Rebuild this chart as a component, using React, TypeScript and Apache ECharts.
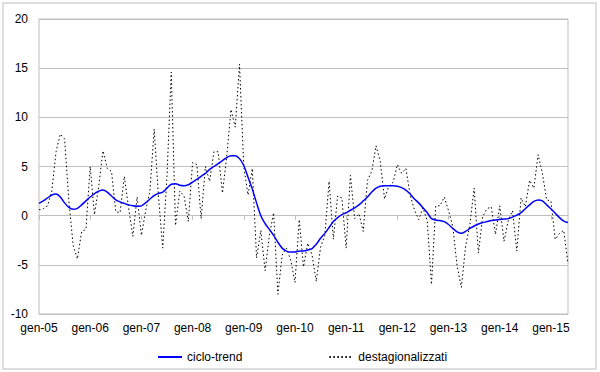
import React, { useEffect, useRef } from "react";
import * as echarts from "echarts";

const months = ["gen", "feb", "mar", "apr", "mag", "giu", "lug", "ago", "set", "ott", "nov", "dic"];
const years = ["05", "06", "07", "08", "09", "10", "11", "12", "13", "14", "15"];
const monthsInLastYear = 5;

const yTicks = { min: -10, max: 20, interval: 5 };

const cicloTrend = [
  1.25, 1.5, 1.8, 2.1, 2.2, 1.9, 1.3, 0.85, 0.65, 0.75, 1.1, 1.5,
  1.9, 2.25, 2.5, 2.6, 2.4, 2.0, 1.6, 1.4, 1.25, 1.1, 1.0, 0.95,
  1.0, 1.3, 1.7, 2.05, 2.25, 2.4, 2.8, 3.2, 3.25, 3.1, 3.05, 3.15,
  3.4, 3.7, 4.0, 4.3, 4.7, 5.0, 5.3, 5.6, 5.9, 6.1, 6.1, 5.8,
  5.1, 3.9, 2.7, 1.3, 0.0, -0.8, -1.4, -2.0, -2.7, -3.3, -3.6, -3.7,
  -3.7, -3.6, -3.6, -3.5, -3.35, -2.9, -2.3, -1.8, -1.2, -0.6, -0.2, 0.1,
  0.3, 0.55, 0.8, 1.1, 1.5, 1.9, 2.4, 2.8, 3.0, 3.05, 3.05, 3.05,
  3.0, 2.85, 2.6, 2.2, 1.7, 1.3, 0.8, 0.3, -0.3, -0.45, -0.5, -0.6,
  -0.9, -1.3, -1.65, -1.8, -1.6, -1.3, -1.05, -0.85, -0.7, -0.6, -0.5, -0.45,
  -0.4, -0.35, -0.3, -0.15, 0.05, 0.3, 0.7, 1.1, 1.45, 1.6, 1.5, 1.1,
  0.7, 0.25, -0.2, -0.55, -0.7,
];

const destagionalizzati = [
  0.6, 0.7, 1.0, 2.5, 6.5, 8.3, 7.8, 1.5, -3.0, -4.4, -1.6, -1.4,
  5.0, 0.1, 3.0, 6.6, 4.8, 4.5, 0.4, 0.3, 4.0, 0.8, -2.1, 1.9,
  -2.0, 0.5, 2.5, 8.8, 2.0, -3.3, 4.0, 14.6, -1.0, 2.5, 2.0, -0.6,
  5.4, 5.2, -0.3, 5.0, 3.5, 6.5, 6.5, 2.3, 6.0, 10.8, 9.0, 15.4,
  5.0, 2.1, 4.8, -4.3, -1.5, -5.6, -2.0, 0.3, -8.0, -4.0, -3.3, -4.5,
  -6.8, -0.4, -5.2, -2.8, -4.0, -6.7, -3.2, -2.0, 3.5, -2.4, 2.0, 1.8,
  -3.3, 4.1, -0.3, 0.2, -1.6, 3.6, 4.5, 7.1, 5.5, 1.7, 3.0, 3.4,
  5.2, 4.3, 4.8, 2.1, 0.6, -0.4, 0.8, -0.5, -7.0, 1.0, 1.0, 1.9,
  0.5, -1.1, -5.1, -7.3, -3.1, -0.9, 2.8, -3.8, -0.1, 0.7, 0.9, -1.9,
  1.0, -2.6, -0.5, 0.5, -3.6, 1.8, 0.9, 3.6, 2.8, 6.2, 4.3, 1.6,
  1.5, -2.4, -1.8, -1.5, -4.9,
];

const categories: string[] = [];
years.forEach((y, yi) => {
  const n = yi === years.length - 1 ? monthsInLastYear : 12;
  for (let m = 0; m < n; m++) categories.push(`${months[m]}-${y}`);
});

const FONT = "'Liberation Sans', Arial, sans-serif";

export default function App() {
  const ref = useRef<HTMLDivElement>(null);
  useEffect(() => {
    if (!ref.current) return;
    const chart = echarts.init(ref.current, null, { renderer: "svg" });
    chart.setOption({
      animation: false,
      backgroundColor: "#ffffff",
      textStyle: { fontFamily: FONT },
      graphic: [
        {
          type: "rect",
          shape: { x: 3, y: 3, width: 593, height: 366 },
          style: { fill: "none", stroke: "#d4d4d4", lineWidth: 1.5 },
          silent: true,
        },
      ],
      grid: {
        left: 39,
        right: 32,
        top: 19,
        bottom: 58,
        show: true,
        borderColor: "#bfbfbf",
        borderWidth: 1,
        containLabel: false,
      },
      legend: {
        data: ["ciclo-trend", "destagionalizzati"],
        left: 152,
        top: 346,
        itemWidth: 24,
        itemHeight: 12,
        itemGap: 86,
        itemStyle: { opacity: 0 },
        textStyle: { fontFamily: FONT, fontSize: 12, color: "#000" },
      },
      xAxis: [
        {
          type: "category",
          data: categories,
          boundaryGap: false,
          axisLine: { onZero: true, lineStyle: { color: "#bfbfbf", width: 1 } },
          axisTick: { show: true, interval: 11, length: 4, lineStyle: { color: "#bfbfbf" } },
          axisLabel: { show: false, interval: 11 },
          splitLine: { show: false },
        },
        {
          type: "category",
          data: categories,
          position: "bottom",
          boundaryGap: false,
          axisLine: { show: false, onZero: false },
          axisTick: { show: false },
          axisLabel: { show: true, interval: 11, margin: 8, fontSize: 12, color: "#000", fontFamily: FONT },
          splitLine: { show: false },
        },
      ],
      yAxis: {
        type: "value",
        min: yTicks.min,
        max: yTicks.max,
        interval: yTicks.interval,
        axisLine: { show: false },
        axisTick: { show: false },
        axisLabel: { fontSize: 12, color: "#000", margin: 11, fontFamily: FONT },
        splitLine: { lineStyle: { color: "#c0c0c0", width: 1 } },
      },
      series: [
        {
          name: "ciclo-trend",
          type: "line",
          xAxisIndex: 0,
          data: cicloTrend,
          symbol: "none",
          smooth: 0.3,
          lineStyle: { color: "#0000ff", width: 1.5 },
          itemStyle: { color: "#0000ff" },
          z: 3,
        },
        {
          name: "destagionalizzati",
          type: "line",
          xAxisIndex: 0,
          data: destagionalizzati,
          symbol: "none",
          lineStyle: { color: "#000000", width: 1, type: [1.5, 2.5] },
          itemStyle: { color: "#000000" },
          z: 2,
        },
      ],
    });
    return () => chart.dispose();
  }, []);
  return (
    <div
      ref={ref}
      style={{ position: "fixed", left: 0, top: 0, width: 600, height: 372, background: "#fff" }}
    />
  );
}
